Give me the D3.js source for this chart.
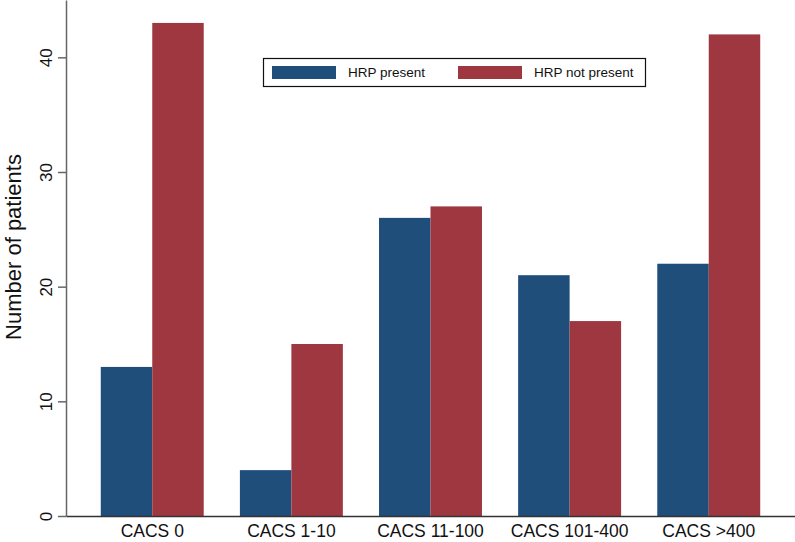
<!DOCTYPE html>
<html><head><meta charset="utf-8">
<script src="https://cdn.jsdelivr.net/npm/d3@7"></script>
<style>body{margin:0;background:#fff;}svg{display:block;font-family:"Liberation Sans",Arial,sans-serif;}</style>
</head><body>
<svg id="c" width="795" height="542"></svg>
<script>
const categories = ["CACS 0","CACS 1-10","CACS 11-100","CACS 101-400","CACS >400"];
const seriesNames = ["HRP present","HRP not present"];
const hrpPresent = [13,4,26,21,22];
const hrpNotPresent = [43,15,27,17,42];
const yTicks = [0,10,20,30,40];
const colors = ["#1f4e7b","#9f3740"];

(function(){
const svg = d3.select("#c");
const mLeft = 66, mRight = 795, mTop = 0, mBottom = 516;
const x = d3.scaleBand().domain(categories).range([mLeft, mRight]).paddingInner(0.26).paddingOuter(0.25);
const x1 = d3.scaleBand().domain(seriesNames).range([0, x.bandwidth()]);
const y = d3.scaleLinear().domain([0,45]).range([mBottom, mTop]);
const data = [hrpPresent, hrpNotPresent];

categories.forEach((c,i)=>{
  seriesNames.forEach((s,j)=>{
    svg.append("rect").attr("x", x(c)+x1(s)).attr("width", x1.bandwidth())
      .attr("y", y(data[j][i])).attr("height", y(0)-y(data[j][i])).attr("fill", colors[j]);
  });
});

const ya = svg.append("g").attr("transform",`translate(${mLeft},0)`)
  .call(d3.axisLeft(y).tickValues(yTicks).tickSize(8).tickSizeOuter(0).tickFormat(d3.format("d")));
ya.select(".domain").attr("stroke","#666").attr("stroke-width",1.5);
ya.selectAll(".tick line").attr("stroke","#666").attr("stroke-width",1.5);
ya.selectAll(".tick text").attr("font-size",17).attr("fill","#111").attr("transform","rotate(-90)")
  .attr("x",0).attr("y",-14).attr("dy","0").attr("text-anchor","middle");

const xa = svg.append("g").attr("transform",`translate(0,${mBottom})`)
  .call(d3.axisBottom(x).tickSize(0).tickSizeOuter(0));
xa.select(".domain").attr("stroke","#333").attr("stroke-width",1.5);
xa.selectAll(".tick text").attr("font-size",17.5).attr("fill","#111").attr("dy","0").attr("y",21);

svg.append("text").attr("transform","translate(21,247) rotate(-90)").attr("text-anchor","middle")
  .attr("font-size",22).attr("fill","#111").text("Number of patients");

const lg = svg.append("g");
lg.append("rect").attr("x",263.5).attr("y",58.5).attr("width",382).attr("height",28).attr("fill","#fff").attr("stroke","#111").attr("stroke-width",1.2);
const lx = [272,458];
seriesNames.forEach((s,j)=>{
  lg.append("rect").attr("x",lx[j]).attr("y",66).attr("width",64).attr("height",13).attr("fill",colors[j]);
  lg.append("text").attr("x",lx[j]+76).attr("y",77).attr("font-size",13.5).attr("fill","#111").text(s);
});
})();
</script>
</body></html>
